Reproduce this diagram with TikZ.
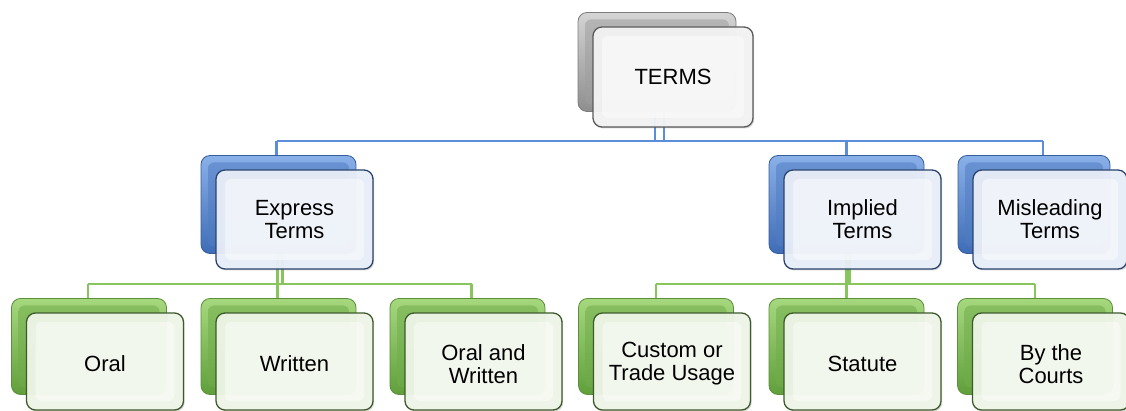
\documentclass[tikz,border=0pt]{standalone}
\usepackage{fontspec}
\setmainfont{Liberation Sans}
\usetikzlibrary{shadows}
\pgfdeclarelayer{bg}
\pgfsetlayers{bg,main}
\definecolor{grayTop}{HTML}{D4D4D4}
\definecolor{grayBot}{HTML}{8E8E8E}
\definecolor{grayEdge}{HTML}{7C7C7C}
\definecolor{grayFill}{HTML}{F4F4F4}
\definecolor{grayLine}{HTML}{5A5A5A}
\definecolor{blueTop}{HTML}{8AB0E8}
\definecolor{blueBot}{HTML}{3E6CB6}
\definecolor{blueEdge}{HTML}{355E9E}
\definecolor{blueFill}{HTML}{E9EFF9}
\definecolor{blueLine}{HTML}{2B446E}
\definecolor{greenTop}{HTML}{A6D87E}
\definecolor{greenBot}{HTML}{609F3B}
\definecolor{greenEdge}{HTML}{5B8F3B}
\definecolor{greenFill}{HTML}{EFF6E8}
\definecolor{greenLine}{HTML}{3D5A2B}
\definecolor{connBlue}{HTML}{5B8DDA}
\definecolor{connGreen}{HTML}{88C55C}
\tikzset{
  backbox/.style={rounded corners=9pt, draw=#1Edge, line width=0.8pt,
    top color=#1Top, bottom color=#1Bot, inner sep=0pt},
  backinner/.style={rounded corners=6pt, draw=none,
    top color=#1Top!55!#1Bot, bottom color=#1Bot!85!#1Top, inner sep=0pt},
  frontbox/.style={rounded corners=9pt, draw=#1Line, line width=1.3pt,
    fill=#1Fill, fill opacity=0.95, inner sep=0pt,
    drop shadow={shadow xshift=1.2pt, shadow yshift=-1.5pt, opacity=0.3}},
  frontinner/.style={rounded corners=6pt, draw=none, fill=white,
    fill opacity=0.45, inner sep=0pt},
  label/.style={align=center, inner sep=0pt, text=black,
    font=\fontsize{22}{23}\selectfont},
  bconn/.style={draw=connBlue, line width=2.8pt},
  gconn/.style={draw=connGreen, line width=2.8pt},
}
\def\labdy{0}
% name, front x, front y, width, height, scheme, text
\newcommand\tbox[7]{%
  \node[backbox=#6, minimum width=#4pt-2pt, minimum height=#5pt-1pt] (#1B) at (#2-16,#3-15) {};
  \node[backinner=#6, minimum width=#4pt-16pt, minimum height=#5pt-15pt] (#1BI) at (#1B) {};
  \node[frontbox=#6, minimum width=#4pt, minimum height=#5pt] (#1) at (#2,#3) {};
  \node[frontinner, minimum width=#4pt-18pt, minimum height=#5pt-18pt] (#1I) at (#1) {};
  \node[label] (#1T) at (#2,#3+\labdy) {#7};
}
\begin{document}
\begin{tikzpicture}[x=1pt,y=-1pt]
\useasboundingbox (0,0) rectangle (1126,411);
% boxes
\tbox{terms}{673}{77}{160}{100}{gray}{TERMS}
\tbox{express}{294.5}{219.5}{157}{99}{blue}{Express\\Terms}
\tbox{implied}{862.5}{219.5}{157}{99}{blue}{Implied\\Terms}
\tbox{mis}{1050}{219.5}{154}{99}{blue}{Misleading\\Terms}
\def\labdy{2.5}
\tbox{oral}{105}{361.5}{157}{97}{green}{Oral}
\tbox{written}{294.5}{361.5}{157}{97}{green}{Written}
\tbox{ow}{483.5}{361.5}{157}{97}{green}{Oral and\\Written}
\tbox{custom}{672}{361.5}{157}{97}{green}{Custom or\\Trade Usage}
\tbox{statute}{862.5}{361.5}{157}{97}{green}{Statute}
\tbox{courts}{1051}{361.5}{157}{97}{green}{By the\\Courts}
% connectors behind the boxes
\coordinate (busT) at (0,141);
\coordinate (busG) at (0,284);
\begin{pgfonlayer}{bg}
  \draw[bconn] ([xshift=-2pt]termsB.south) -- ([xshift=-2pt]termsB.south |- busT);
  \draw[bconn] ([xshift=7pt]termsB.south) -- ([xshift=7pt]termsB.south |- busT);
  \draw[bconn] ([xshift=-2pt]expressB.north |- busT) -- ([xshift=9pt]misB.north |- busT);
  \draw[bconn] ([xshift=-2pt]expressB.north) -- ([xshift=-2pt]expressB.north |- busT);
  \draw[bconn] (impliedB.north) -- (impliedB.north |- busT);
  \draw[bconn] ([xshift=9pt]misB.north) -- ([xshift=9pt]misB.north |- busT);
  % left green group
  \draw[gconn] ([xshift=-1pt]expressB.south) -- ([xshift=-1pt]expressB.south |- busG);
  \draw[gconn] ([xshift=4pt]expressB.south) -- ([xshift=4pt]expressB.south |- busG);
  \draw[gconn] ([xshift=-1pt]oralB.north |- busG) -- ([xshift=4pt]owB.north |- busG);
  \draw[gconn] ([xshift=-1pt]oralB.north) -- ([xshift=-1pt]oralB.north |- busG);
  \draw[gconn] ([xshift=-1pt]writtenB.north) -- ([xshift=-1pt]writtenB.north |- busG);
  \draw[gconn] ([xshift=4pt]owB.north) -- ([xshift=4pt]owB.north |- busG);
  % right green group
  \draw[gconn] (impliedB.south) -- (impliedB.south |- busG);
  \draw[gconn] ([xshift=3pt]impliedB.south) -- ([xshift=3pt]impliedB.south |- busG);
  \draw[gconn] (customB.north |- busG) -- (courtsB.north |- busG);
  \draw[gconn] (customB.north) -- (customB.north |- busG);
  \draw[gconn] (statuteB.north) -- (statuteB.north |- busG);
  \draw[gconn] (courtsB.north) -- (courtsB.north |- busG);
\end{pgfonlayer}
\end{tikzpicture}
\end{document}
